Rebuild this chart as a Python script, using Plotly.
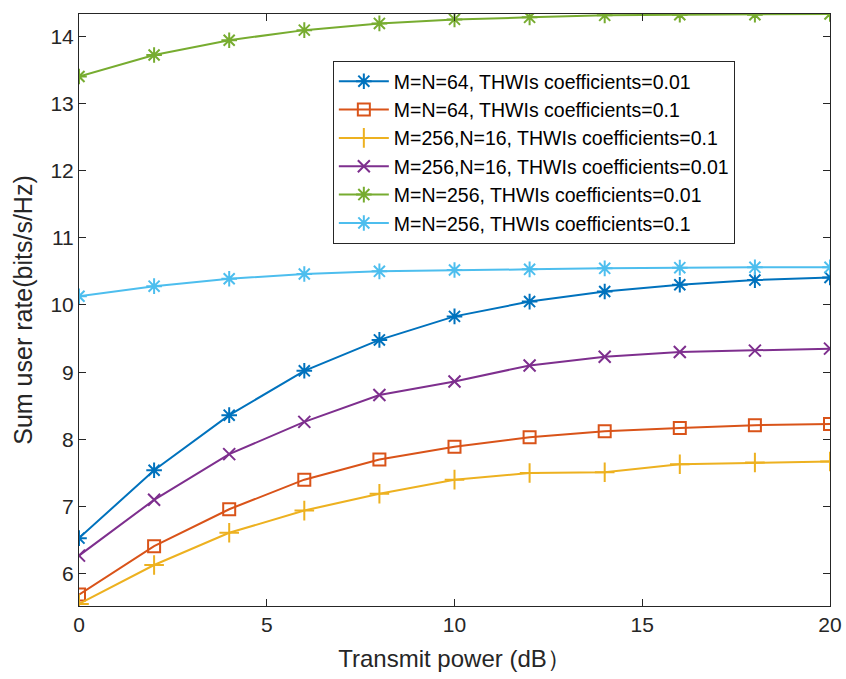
import plotly.graph_objects as go

x_power = [0, 2, 4, 6, 8, 10, 12, 14, 16, 18, 20]

labels = [
    "M=N=64, THWIs coefficients=0.01",
    "M=N=64, THWIs coefficients=0.1",
    "M=256,N=16, THWIs coefficients=0.1",
    "M=256,N=16, THWIs coefficients=0.01",
    "M=N=256, THWIs coefficients=0.01",
    "M=N=256, THWIs coefficients=0.1",
]

mn64_001 = [6.53, 7.54, 8.36, 9.02, 9.48, 9.83, 10.05, 10.20, 10.30, 10.37, 10.41]
mn64_01 = [5.69, 6.41, 6.96, 7.40, 7.70, 7.89, 8.03, 8.12, 8.17, 8.21, 8.23]
m256n16_01 = [5.55, 6.13, 6.61, 6.94, 7.19, 7.40, 7.50, 7.51, 7.63, 7.655, 7.67]
m256n16_001 = [6.27, 7.10, 7.78, 8.26, 8.66, 8.86, 9.10, 9.23, 9.30, 9.32, 9.35]
mn256_001 = [13.40, 13.72, 13.94, 14.09, 14.19, 14.25, 14.28, 14.31, 14.32, 14.32, 14.33]
mn256_01 = [10.13, 10.28, 10.39, 10.46, 10.50, 10.52, 10.53, 10.545, 10.555, 10.56, 10.56]

series = [mn64_001, mn64_01, m256n16_01, m256n16_001, mn256_001, mn256_01]
colors = ["#0072BD", "#D95319", "#EDB120", "#7E2F8E", "#77AC30", "#4DBEEE"]
symbols = ["asterisk-open", "square-open", "cross-thin-open", "x-thin-open", "asterisk-open", "asterisk-open"]
sizes = [13, 12, 14, 12, 13, 13]

FONT = "Liberation Sans, Arial, Helvetica, sans-serif"

fig = go.Figure()
for lab, ys, c, s, sz in zip(labels, series, colors, symbols, sizes):
    fig.add_trace(go.Scatter(
        x=x_power, y=ys, name=lab, mode="lines+markers",
        line=dict(color=c, width=2),
        marker=dict(symbol=s, size=sz, color=c, line=dict(color=c, width=2)),
    ))

axis_common = dict(
    showline=True, linecolor="#262626", linewidth=1, mirror="ticks",
    ticks="inside", ticklen=7, tickwidth=1, tickcolor="#262626",
    showgrid=False, zeroline=False, automargin=False,
    tickfont=dict(family=FONT, size=21, color="#262626"),
)

fig.update_xaxes(range=[0, 20], tickvals=[0, 5, 10, 15, 20],
                 title=dict(text="Transmit power (dB）", font=dict(family=FONT, size=24, color="#262626"), standoff=14),
                 **axis_common)
fig.update_yaxes(range=[5.52, 14.33], tickvals=[6, 7, 8, 9, 10, 11, 12, 13, 14],
                 title=dict(text="Sum user rate(bits/s/Hz)", font=dict(family=FONT, size=25, color="#262626"), standoff=10),
                 **axis_common)

fig.update_layout(
    template="none",
    width=846, height=679,
    margin=dict(l=79, r=16, t=14, b=73),
    plot_bgcolor="white", paper_bgcolor="white",
    showlegend=True,
    legend=dict(
        x=0.338, y=0.9206, xanchor="left", yanchor="top",
        bgcolor="white", bordercolor="#262626", borderwidth=1,
        font=dict(family=FONT, size=19.5, color="#000000"),
        itemwidth=50,
    ),
)

fig.write_html("out.html")
